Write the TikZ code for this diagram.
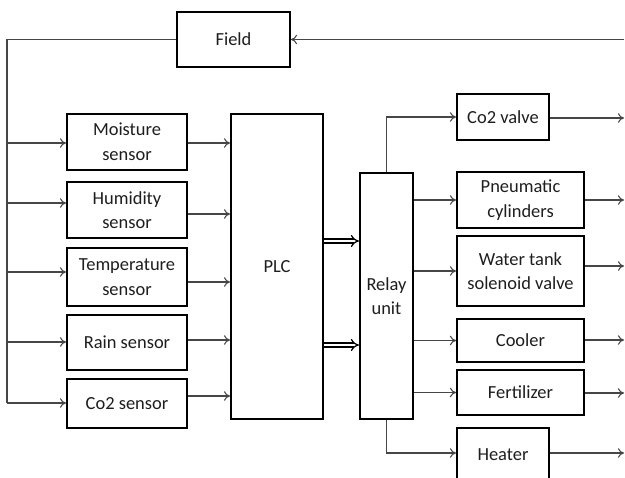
\documentclass[tikz,border=0pt]{standalone}
\usepackage{fontspec}
\setmainfont{Carlito}
\usepackage{tikz}
\usetikzlibrary{arrows.meta,positioning,calc}
\definecolor{wiregray}{RGB}{70,70,70}
\definecolor{textdark}{RGB}{30,30,30}
\tikzset{
  blockbox/.style={draw=black,line width=1.1pt,fill=white,align=center,text=textdark,
    font=\fontsize{10.5}{14}\selectfont,inner sep=0pt},
  sz/.style 2 args={minimum width=#1*0.02cm,minimum height=#2*0.02cm},
  wire/.style={draw=wiregray,line width=0.6pt,-{To[length=3.5pt,width=5.5pt]}},
  busline/.style={draw=wiregray,line width=0.6pt},
  dblwire/.style={draw=black,double=white,double distance=1.6pt,line width=0.7pt,-{Implies}},
}

\begin{document}
\begin{tikzpicture}[x=0.02cm,y=-0.02cm]
    % frame 625 x 477, one unit = one pixel, y grows downwards
    \useasboundingbox (0,0) rectangle (625,477);
    \clip (0,0) rectangle (625,477);

    % Field on top, PLC and relay in the middle
    \node[blockbox,sz={113}{55}] (field) at (233.5,39.5) {Field};
    \node[blockbox,sz={92}{305}] (plc) at (277,266.5) {PLC};
    \node[blockbox,sz={53}{246}] (relay) at (386.5,296) {Relay\\unit};

    % feedback bus on the left and right rim
    \coordinate (bus) at (7,403);
    \coordinate (rim) at (624,0);
    \draw[busline] (field.west) -| (bus);
    \draw[wire] (rim |- field.east) -- (field.east);

    % sensors: name/text/y/height/bus arrow y/PLC arrow y
    \foreach \n/\txt/\y/\h/\yin/\yout in {
        moist/{Moisture\\sensor}/142/56/143/143,
        humid/{Humidity\\sensor}/210/56/203/214,
        temp/{Temperature\\sensor}/277/58/272/282,
        rain/{Rain sensor}/342.5/55/342/340,
        cotwo/{Co2 sensor}/403.5/49/403/396} {
        \node[blockbox,sz={120}{\h}] (\n) at (127,\y) {\txt};
        \draw[wire] (bus |- 0,\yin) -- (\n.west |- 0,\yin);
        \draw[wire] (\n.east |- 0,\yout) -- (plc.west |- 0,\yout);
    }

    % PLC to relay
    \foreach \yy in {241,345}
        \draw[dblwire] (plc.east |- 0,\yy) -- (relay.west |- 0,\yy);

    % actuators: name/text/x/y/width/height/out arrow y
    \foreach \n/\txt/\x/\y/\w/\h/\yout in {
        valve/{Co2 valve}/503/117/92/46/118,
        pneu/{Pneumatic\\cylinders}/520.5/200/127/56/200,
        tank/{Water tank\\solenoid valve}/520.5/271/127/70/266,
        cool/{Cooler}/520.5/340.5/127/43/340,
        fert/{Fertilizer}/520.5/392.5/127/45/393,
        heat/{Heater}/503/455/92/54/453} {
        \node[blockbox,sz={\w}{\h}] (\n) at (\x,\y) {\txt};
        \draw[wire] (\n.east |- 0,\yout) -- (rim |- 0,\yout);
    }

    % relay to actuators
    \draw[wire] (relay.north) |- (valve.west);
    \foreach \n in {pneu,tank,cool,fert}
        \draw[wire] (relay.east |- \n.west) -- (\n.west);
    \draw[wire] (relay.south) |- (heat.west |- 0,453);
\end{tikzpicture}
\end{document}
